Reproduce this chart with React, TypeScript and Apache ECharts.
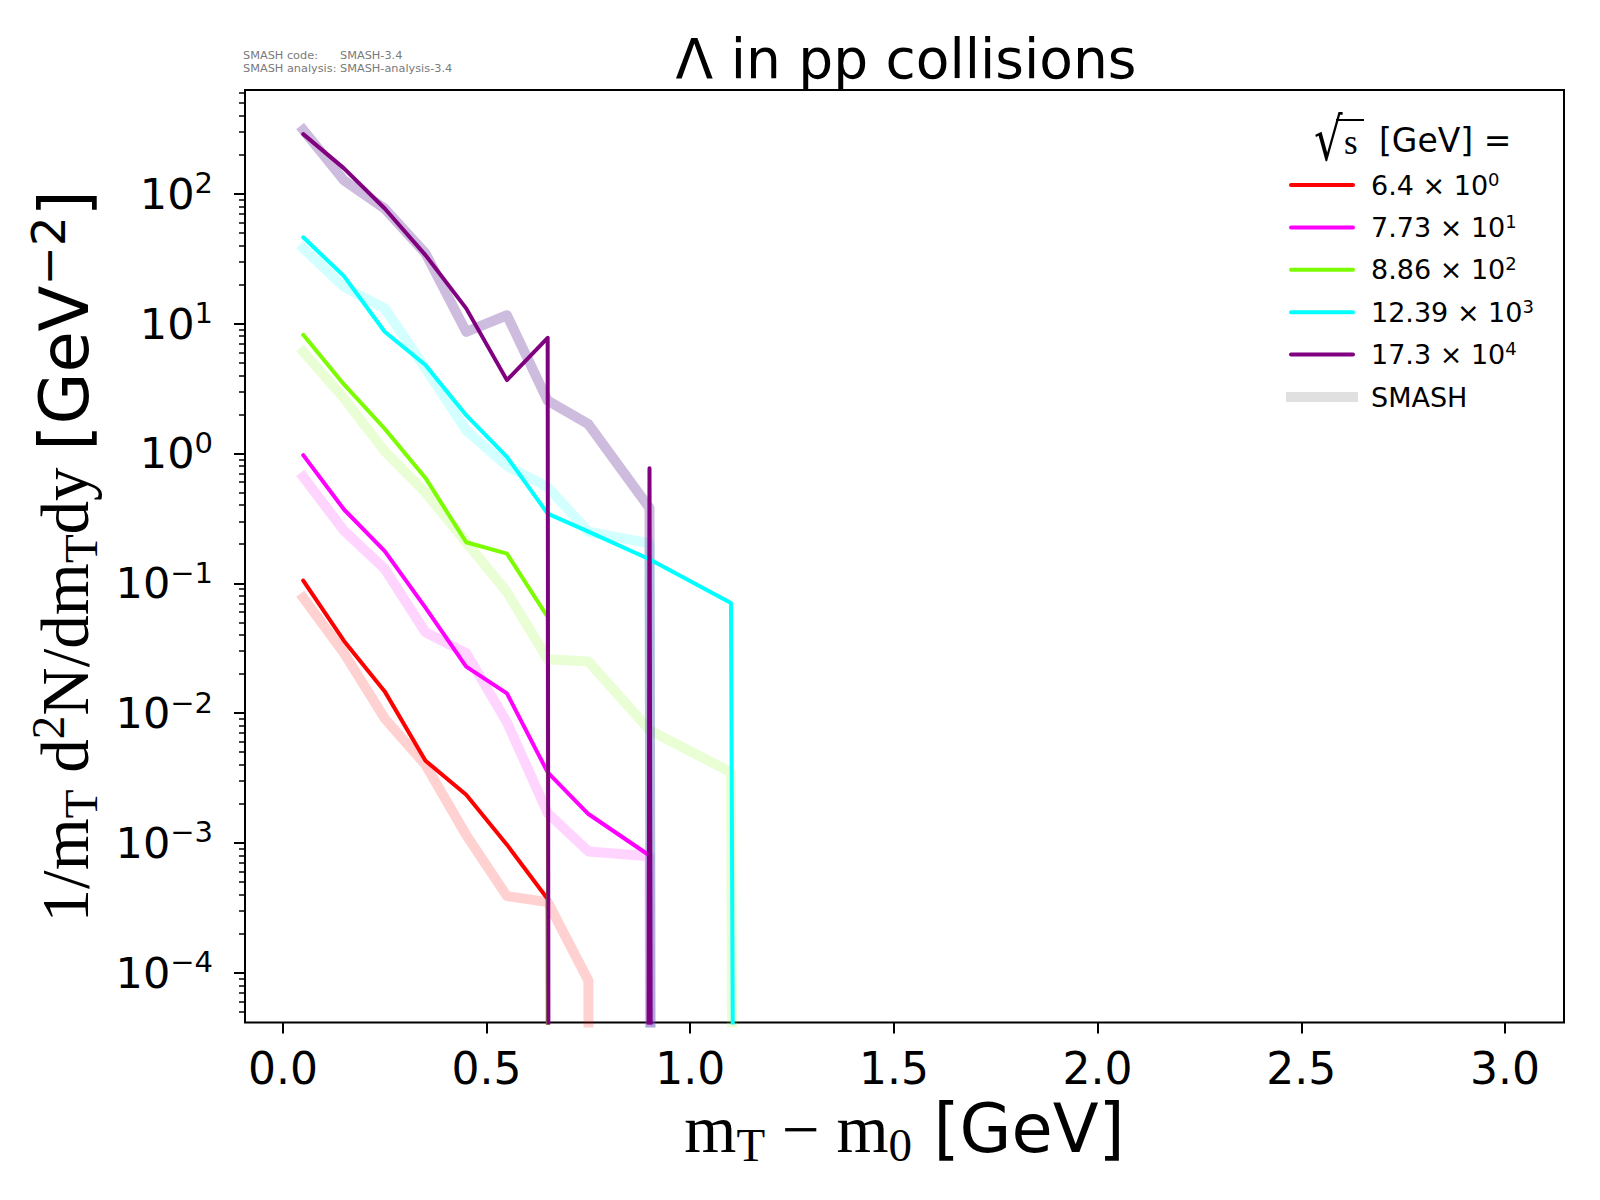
import React, { useEffect, useRef } from "react";
import * as echarts from "echarts";

// ---------- data ----------
const xBins = [0.05, 0.15, 0.25, 0.35, 0.45, 0.55, 0.65, 0.75, 0.9, 1.1, 1.5, 3.0];

const energyMantissa = ["6.4", "7.73", "8.86", "12.39", "17.3"];
const energyExponent = ["0", "1", "2", "3", "4"];

// measured spectra (0 = empty bin)
const data6p4 = [0.105, 0.036, 0.0147, 0.0043, 0.00235, 0.00097, 0.00037, 0, 0, 0, 0, 0];
const data77p3 = [0.97, 0.37, 0.177, 0.065, 0.0228, 0.0142, 0.0035, 0.00167, 0.0008, 0, 0, 0];
const data886 = [8.2, 3.4, 1.55, 0.648, 0.207, 0.169, 0.055, 0, 0, 0, 0, 0];
const data12390 = [46.2, 23.2, 8.65, 4.8, 1.97, 0.94, 0.344, 0.25, 0.153, 0.0705, 0, 0];
const data173000 = [288, 157, 77, 33.7, 13.1, 3.67, 7.78, 0, 0.77, 0, 0, 0];

// SMASH spectra (0 = empty bin)
const smash6p4 = [0.0774, 0.029, 0.0091, 0.004, 0.00115, 0.00039, 0.00035, 0.000087, 0, 0, 0, 0];
const smash77p3 = [0.66, 0.254, 0.129, 0.042, 0.029, 0.0085, 0.0017, 0.00086, 0.00079, 0, 0, 0];
const smash886 = [6.07, 2.66, 1.04, 0.5, 0.207, 0.0857, 0.026, 0.025, 0.0074, 0.0035, 0, 0];
const smash12390 = [38, 19.2, 13.1, 4.52, 1.51, 0.8, 0.55, 0.25, 0.203, 0, 0, 0];
const smash173000 = [310, 127, 77, 34.8, 8.65, 11.6, 2.55, 1.68, 0.38, 0, 0, 0];

const xTickValues = [0, 0.5, 1.0, 1.5, 2.0, 2.5, 3.0];
const yTickValues = [1e-4, 1e-3, 1e-2, 1e-1, 1, 10, 100];

const dataColors = ["#ff0000", "#ff00ff", "#7cfc00", "#00ffff", "#800080"];
const smashColors = [
  "rgba(255,0,0,0.18)",
  "rgba(255,0,255,0.17)",
  "rgba(124,252,0,0.17)",
  "rgba(0,255,255,0.17)",
  "rgba(102,51,153,0.33)",
];

const dataSets = [data6p4, data77p3, data886, data12390, data173000];
const smashSets = [smash6p4, smash77p3, smash886, smash12390, smash173000];

// ---------- axis settings ----------
const X_MIN = -0.093;
const X_MAX = 3.145;
const Y_MIN = 4.14e-5;
const Y_MAX = 630;
const EMPTY = 1e-300; // empty bins fall far below the axis, as a clipped log plot draws them

const yMinorTickValues: number[] = [];
for (let k = -5; k <= 2; k++) {
  for (let m = 2; m <= 9; m++) {
    const v = Number((m * Math.pow(10, k)).toPrecision(3));
    if (v > Y_MIN && v < Y_MAX) yMinorTickValues.push(v);
  }
}

const toPoints = (vals: number[]) => xBins.map((x, i) => [x, vals[i] > 0 ? vals[i] : EMPTY]);

const seriesNames = energyMantissa.map((m, i) => `${m} × 10^${energyExponent[i]}`);

function buildOption(): any {
  const series: any[] = [];
  smashSets.forEach((vals, i) => {
    series.push({
      type: "line",
      name: "SMASH " + energyMantissa[i],
      data: toPoints(vals),
      symbol: "none",
      silent: true,
      clip: true,
      z: 2,
      lineStyle: { color: smashColors[i], width: 10, cap: "square", join: "round" },
      itemStyle: { color: smashColors[i] },
      emphasis: { disabled: true },
    });
  });
  dataSets.forEach((vals, i) => {
    series.push({
      type: "line",
      name: seriesNames[i],
      data: toPoints(vals),
      symbol: "none",
      silent: true,
      clip: true,
      z: 3,
      lineStyle: { color: dataColors[i], width: 4, cap: "round", join: "round" },
      itemStyle: { color: dataColors[i] },
      emphasis: { disabled: true },
    });
  });
  series.push({
    type: "line",
    name: "SMASH",
    data: [],
    symbol: "none",
    lineStyle: { color: "#e0e0e0", width: 10, cap: "square" },
    itemStyle: { color: "#e0e0e0" },
  });

  const serif = "Liberation Serif";
  const sans = "DejaVu Sans";
  const smallText = { fontFamily: sans, fontSize: 11.3, fontWeight: "normal", color: "#7a7a7a" };

  return {
    animation: false,
    backgroundColor: "#ffffff",
    title: [
      {
        text: "Λ in pp collisions",
        left: 906,
        top: 31,
        padding: 0,
        textAlign: "center",
        textStyle: { fontFamily: sans, fontSize: 55, fontWeight: "normal", color: "#000" },
      },
      { text: "SMASH code:", left: 243, top: 50, padding: 0, textStyle: smallText },
      { text: "SMASH-3.4", left: 340, top: 50, padding: 0, textStyle: smallText },
      { text: "SMASH analysis:", left: 243, top: 63, padding: 0, textStyle: smallText },
      { text: "SMASH-analysis-3.4", left: 340, top: 63, padding: 0, textStyle: smallText },
    ],
    graphic: [
      {
        type: "text",
        x: 1314,
        y: 139,
        scaleY: 1.32,
        silent: true,
        style: {
          text: "√",
          fontFamily: sans,
          fontSize: 45,
          fill: "#000",
          verticalAlign: "middle",
          align: "left",
        },
      },
      {
        type: "line",
        shape: { x1: 1336, y1: 120, x2: 1364, y2: 120 },
        style: { stroke: "#000", lineWidth: 2 },
        silent: true,
      },
      {
        type: "text",
        x: 1344,
        y: 142,
        silent: true,
        style: {
          text: "s",
          fontFamily: serif,
          fontSize: 35,
          fill: "#000",
          verticalAlign: "middle",
          align: "left",
        },
      },
      {
        type: "text",
        x: 1379,
        y: 140,
        silent: true,
        style: {
          text: "[GeV] =",
          fontFamily: sans,
          fontSize: 33,
          fill: "#000",
          verticalAlign: "middle",
          align: "left",
        },
      },
    ],
    legend: {
      orient: "vertical",
      left: 1286,
      top: 170,
      padding: 0,
      itemWidth: 62,
      itemHeight: 14,
      itemGap: 12.4,
      selectedMode: false,
      itemStyle: { opacity: 0, borderWidth: 0 },
      data: [
        ...seriesNames.map((n) => ({ name: n, lineStyle: { width: 4 } })),
        { name: "SMASH", lineStyle: { width: 10, color: "#e0e0e0" } },
      ],
      formatter: (name: string) => name.replace(/\^(\d+)/, "{sup|$1}"),
      textStyle: {
        fontFamily: sans,
        fontSize: 27,
        lineHeight: 30,
        color: "#000",
        padding: [0, 0, 0, 13],
        rich: {
          sup: { fontFamily: sans, fontSize: 18, lineHeight: 23, verticalAlign: "top", color: "#000" },
        },
      },
    },
    grid: {
      left: 245,
      right: 36,
      top: 90,
      bottom: 177.5,
      show: true,
      borderColor: "#000",
      borderWidth: 2,
      backgroundColor: "transparent",
      containLabel: false,
    },
    xAxis: {
      type: "value",
      min: X_MIN,
      max: X_MAX,
      axisLine: { show: false },
      splitLine: { show: false },
      axisTick: {
        show: true,
        customValues: xTickValues,
        length: 11,
        lineStyle: { color: "#000", width: 2 },
      },
      axisLabel: {
        customValues: xTickValues,
        formatter: (v: number) => v.toFixed(1),
        fontFamily: sans,
        fontSize: 44,
        color: "#000",
        margin: 24,
      },
      name: "{s|m}{sub|T}{s| − m}{sub|0}{g| [GeV]}",
      nameLocation: "middle",
      nameGap: 63,
      nameTextStyle: {
        rich: {
          s: { fontFamily: serif, fontSize: 67, lineHeight: 80, color: "#000" },
          sub: { fontFamily: serif, fontSize: 47, lineHeight: 48, verticalAlign: "bottom", color: "#000" },
          g: { fontFamily: sans, fontSize: 67, lineHeight: 80, color: "#000" },
        },
      },
    },
    yAxis: [
      {
        // labels and axis title
        type: "log",
        logBase: 10,
        min: Y_MIN,
        max: Y_MAX,
        axisLine: { show: false },
        splitLine: { show: false },
        axisTick: { show: false },
        axisLabel: {
          customValues: yTickValues,
          formatter: (v: number) => {
            const e = Math.round(Math.log10(v));
            const s = e < 0 ? "−" + String(-e) : String(e);
            return "{b|10}{sup|" + s + "}";
          },
          margin: 32,
          rich: {
            b: { fontFamily: sans, fontSize: 43, lineHeight: 50, color: "#000" },
            sup: { fontFamily: sans, fontSize: 29, lineHeight: 26, verticalAlign: "top", color: "#000" },
          },
        },
        name:
          "{s|1/m}{sub|T}{s| d}{sup|2}{s|N/dm}{sub|T}{s|dy }{g|[GeV}{gsup|−2}{g|]}",
        nameLocation: "middle",
        nameRotate: 90,
        nameGap: 128,
        nameTextStyle: {
          rich: {
            s: { fontFamily: serif, fontSize: 67, lineHeight: 80, color: "#000" },
            sub: { fontFamily: serif, fontSize: 47, lineHeight: 48, verticalAlign: "bottom", color: "#000" },
            sup: { fontFamily: serif, fontSize: 47, lineHeight: 42, verticalAlign: "top", color: "#000" },
            g: { fontFamily: sans, fontSize: 67, lineHeight: 80, color: "#000" },
            gsup: { fontFamily: sans, fontSize: 47, lineHeight: 42, verticalAlign: "top", color: "#000" },
          },
        },
      },
      {
        // major ticks
        type: "log",
        logBase: 10,
        min: Y_MIN,
        max: Y_MAX,
        position: "left",
        axisLine: { show: false },
        splitLine: { show: false },
        axisLabel: { show: false },
        axisTick: {
          show: true,
          customValues: yTickValues,
          length: 11,
          lineStyle: { color: "#000", width: 2 },
        },
      },
      {
        // minor ticks
        type: "log",
        logBase: 10,
        min: Y_MIN,
        max: Y_MAX,
        position: "left",
        axisLine: { show: false },
        splitLine: { show: false },
        axisLabel: { show: false },
        axisTick: {
          show: true,
          customValues: yMinorTickValues,
          length: 6,
          lineStyle: { color: "#000", width: 1.5 },
        },
      },
    ],
    series,
  };
}

export default function App() {
  const ref = useRef<HTMLDivElement>(null);
  useEffect(() => {
    document.body.style.margin = "0";
    if (!ref.current) return;
    const chart = echarts.init(ref.current, undefined, { renderer: "svg" });
    chart.setOption(buildOption());
    return () => chart.dispose();
  }, []);
  return <div ref={ref} style={{ width: 1600, height: 1200, background: "#fff" }} />;
}
